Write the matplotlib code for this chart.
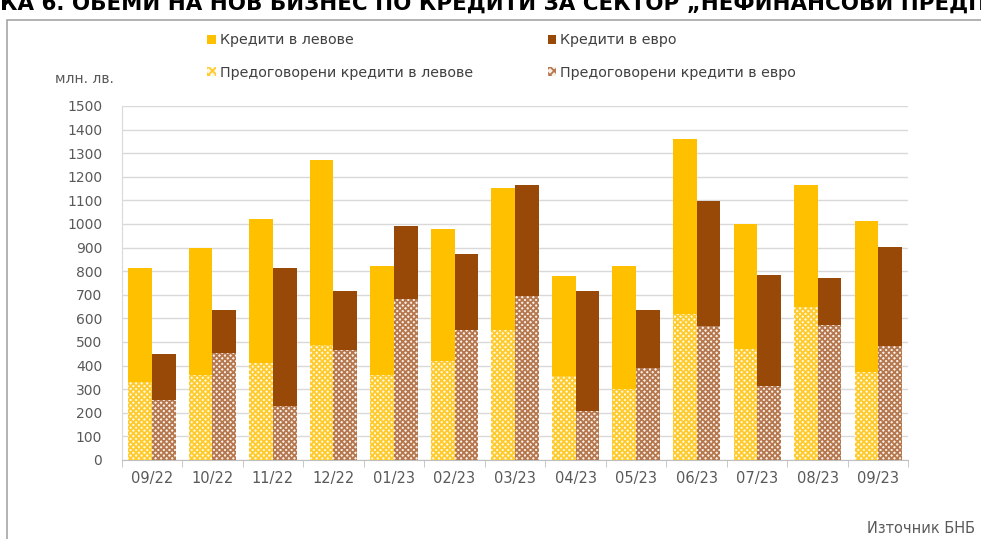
import numpy as np
import matplotlib
matplotlib.use("Agg")
import matplotlib.pyplot as plt
from matplotlib.patches import Patch, Rectangle

# --- data (млн. лв.) ---
months = ["09/22", "10/22", "11/22", "12/22", "01/23", "02/23", "03/23",
          "04/23", "05/23", "06/23", "07/23", "08/23", "09/23"]
bgn_total = [812, 900, 1021, 1273, 824, 978, 1154, 778, 824, 1361, 1000, 1165, 1013]
bgn_renegotiated = [331, 358, 413, 486, 358, 418, 550, 354, 300, 618, 472, 649, 371]
eur_total = [448, 635, 812, 718, 990, 871, 1165, 718, 635, 1096, 783, 771, 901]
eur_renegotiated = [254, 452, 230, 466, 684, 549, 695, 206, 390, 566, 313, 572, 484]

YELLOW = "#FFC000"
BROWN = "#984807"
HATCH_Y = "#FFCA2C"
HATCH_B = "#B5774E"
TXT = "#595959"

plt.rcParams["font.family"] = ["DejaVu Sans"]
plt.rcParams["hatch.linewidth"] = 1.3

fig = plt.figure(figsize=(9.81, 5.39), dpi=100)
ax = fig.add_axes([0.124, 0.1466, 0.802, 0.6568])

x = np.arange(len(months))
w = 0.39
bgn_new = np.array(bgn_total) - np.array(bgn_renegotiated)
eur_new = np.array(eur_total) - np.array(eur_renegotiated)

ax.bar(x - w / 2, bgn_renegotiated, w, color="#FFF8E0", edgecolor=HATCH_Y,
       hatch="xxxxxx", linewidth=0, zorder=3)
ax.bar(x - w / 2, bgn_new, w, bottom=bgn_renegotiated, color=YELLOW,
       linewidth=0, zorder=3)
ax.bar(x + w / 2, eur_renegotiated, w, color="#FAF0E8", edgecolor=HATCH_B,
       hatch="xxxxxx", linewidth=0, zorder=3)
ax.bar(x + w / 2, eur_new, w, bottom=eur_renegotiated, color=BROWN,
       linewidth=0, zorder=3)

ax.set_xlim(-0.5, len(months) - 0.5)
ax.set_ylim(0, 1500)
ax.set_yticks(range(0, 1501, 100))
ax.yaxis.grid(True, color="#D9D9D9", linewidth=1, zorder=0)
ax.tick_params(axis="y", length=0, labelsize=10, labelcolor=TXT, pad=14)
ax.set_xticks(x)
ax.set_xticklabels(months)
ax.set_xticks(np.arange(-0.5, len(months)), minor=True)
ax.tick_params(axis="x", which="major", length=0, labelsize=10.5,
               labelcolor=TXT, pad=8)
ax.tick_params(axis="x", which="minor", length=5, color="#BFBFBF")
for s in ["top", "right"]:
    ax.spines[s].set_visible(False)
ax.spines["left"].set_color("#D9D9D9")
ax.spines["bottom"].set_color("#BFBFBF")

handles = [
    Patch(facecolor=YELLOW, label="Кредити в левове"),
    Patch(facecolor="#FFF8E0", edgecolor=HATCH_Y, hatch="xxxx", linewidth=0,
          label="Предоговорени кредити в левове"),
    Patch(facecolor=BROWN, label="Кредити в евро"),
    Patch(facecolor="#FAF0E8", edgecolor=HATCH_B, hatch="xxxx", linewidth=0,
          label="Предоговорени кредити в евро"),
]
fig.legend(handles=handles, ncol=2, loc="upper left",
           bbox_to_anchor=(0.198, 0.962), frameon=False, fontsize=10.3,
           labelcolor="#404040", handlelength=0.6, handleheight=0.6,
           handletextpad=0.3, columnspacing=5.2, labelspacing=1.3)

fig.text(0.056, 0.846, "млн. лв.", fontsize=10, color=TXT)
fig.text(0.884, 0.012, "Източник БНБ", fontsize=10.5, color=TXT)

# chart frame (only left/top edges visible in the reference crop)
fig.patches.append(Rectangle((0.0075, -0.1), 1.1, 1.062, transform=fig.transFigure,
                             fill=False, edgecolor="#A6A6A6", linewidth=1.2))

# title, cut off at the top edge of the picture
title = "ГРАФИКА 6. ОБЕМИ НА НОВ БИЗНЕС ПО КРЕДИТИ ЗА СЕКТОР \u201eНЕФИНАНСОВИ ПРЕДПРИЯТИЯ\u201c"
renderer = fig.canvas.get_renderer()
probe = fig.text(0, 0, "ГРАФИ", fontsize=15.4, fontweight="bold",
                 family="DejaVu Sans")
shift = probe.get_window_extent(renderer).width / fig.bbox.width
probe.remove()
fig.text(-shift, 1 - 9.5 / 539, title, fontsize=15.4, fontweight="bold",
         family="DejaVu Sans", va="baseline", color="black")

fig.savefig("out.png", dpi=100)
